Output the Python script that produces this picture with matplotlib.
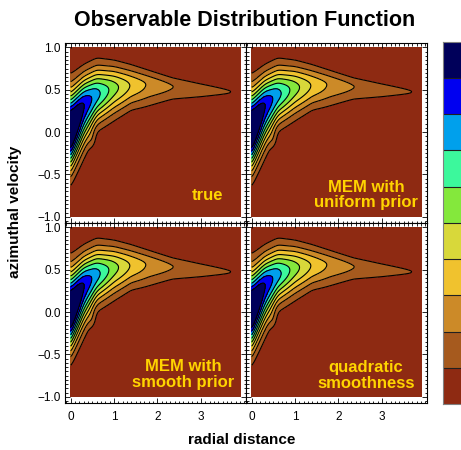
import numpy as np
import matplotlib
matplotlib.use('Agg')
import matplotlib.pyplot as plt
from matplotlib.ticker import MultipleLocator

plt.rcParams['font.family'] = ['Liberation Sans', 'DejaVu Sans']

# ---- data (ridge of the distribution) ----
knot_r = [0.0, 0.3, 0.6, 1.0, 1.4, 1.8, 2.35, 3.0, 3.7, 3.95]
ridge_v = [0.02, 0.31, 0.44, 0.52, 0.55, 0.56, 0.535, 0.505, 0.475, 0.47]
ridge_f = [1.20, 0.90, 0.74, 0.54, 0.385, 0.282, 0.20, 0.151, 0.10, 0.06]
width_up = [0.30, 0.234, 0.218, 0.18, 0.15, 0.118, 0.089, 0.069, 0.05, 0.05]
width_dn = [0.30, 0.305, 0.22, 0.212, 0.177, 0.174, 0.123, 0.096, 0.06, 0.06]
# small shoulder on the low-velocity side near r ~ 0.5
shoulder_rv = [0.50, -0.10]
shoulder_amp = 0.06
shoulder_width = [0.07, 0.08]

levels = [0.1, 0.2, 0.3, 0.4, 0.5, 0.6, 0.7, 0.8, 0.9]
level_colors = ['#8e2a12', '#a65a1e', '#cc8a28', '#f0c22e', '#d8d83a',
                '#84e83c', '#3cf89c', '#00a0ec', '#0000f0', '#00005a']
panel_labels = ['true', 'MEM with\nuniform prior', 'MEM with\nsmooth prior',
                'quadratic\nsmoothness']
x_ticks = [0, 1, 2, 3]
y_ticks = [-1.0, -0.5, 0.0, 0.5, 1.0]
r_range = [0.0, 3.92]
v_range = [-1.0, 1.0]

# ---- build field ----
r = np.linspace(r_range[0], r_range[1], 393)
v = np.linspace(v_range[0], v_range[1], 401)


def profile(vals):
    y = np.interp(r, knot_r, vals)
    k = np.exp(-0.5 * (np.arange(-12, 13) / 5.0) ** 2)
    k /= k.sum()
    yp = np.concatenate([np.full(12, y[0]), y, np.full(12, y[-1])])
    return np.convolve(yp, k, mode='valid')


A = profile(ridge_f)
V0 = profile(ridge_v)
SU = profile(width_up)
SD = profile(width_dn)
dv = v[:, None] - V0[None, :]
sig = np.where(dv > 0, SU[None, :], SD[None, :])
F = A[None, :] * np.exp(-dv ** 2 / (2 * sig ** 2))
F = F + shoulder_amp * np.exp(
    -((r[None, :] - shoulder_rv[0]) / shoulder_width[0]) ** 2 / 2
    - ((v[:, None] - shoulder_rv[1]) / shoulder_width[1]) ** 2 / 2)

W, H = 461, 450
fig = plt.figure(figsize=(W / 100, H / 100), dpi=100)

lefts = [65, 246, 65, 246]
tops = [42.7, 42.7, 222.7, 222.7]
pw, ph = 181, 180
text_pos = [(0.785, 0.15), (0.663, 0.154), (0.652, 0.157), (0.663, 0.15)]


def fmt(t):
    return ('%.1f' % t).replace('-', '\u2212')


for i in range(4):
    ax = fig.add_axes([lefts[i] / W, 1 - (tops[i] + ph) / H, pw / W, ph / H])
    ax.contourf(r, v, F, levels=[-1] + levels + [100], colors=level_colors)
    ax.contour(r, v, F, levels=levels, colors='k', linewidths=0.8)
    ax.set_xlim(-0.13, 4.04)
    ax.set_ylim(-1.07, 1.055)
    ax.set_xticks(x_ticks)
    ax.set_yticks(y_ticks)
    ax.xaxis.set_minor_locator(MultipleLocator(0.1))
    ax.yaxis.set_minor_locator(MultipleLocator(0.05))
    ax.tick_params(which='both', direction='in', top=True, right=True,
                   width=0.6, labelsize=8.5)
    ax.tick_params(which='major', length=3.6)
    ax.tick_params(which='minor', length=1.8)
    ax.tick_params(axis='x', pad=6)
    ax.tick_params(axis='y', pad=3)
    ax.set_xticklabels([str(t) for t in x_ticks])
    ax.set_yticklabels([fmt(t) for t in y_ticks])
    if i % 2 == 1:
        ax.tick_params(labelleft=False)
    if i < 2:
        ax.tick_params(labelbottom=False)
    for s in ax.spines.values():
        s.set_linewidth(0.8)
    tx, ty = text_pos[i]
    ax.text(tx, ty, panel_labels[i], transform=ax.transAxes, ha='center',
            va='center', color='#ffd400', fontsize=12, fontweight='bold',
            linespacing=1.05)

# colorbar
cax = fig.add_axes([443 / W, 1 - 404 / H, 20 / W, 362.3 / H])
for j, c in enumerate(level_colors):
    cax.axhspan(j, j + 1, color=c, lw=0)
for j in range(1, len(level_colors)):
    cax.axhline(j, color='#202020', lw=0.8)
cax.set_xlim(0, 1)
cax.set_ylim(0, len(level_colors))
cax.set_xticks([])
cax.set_yticks([])
for s in cax.spines.values():
    s.set_color('#808080')
    s.set_linewidth(0.8)

fig.text(245 / W, 1 - 26 / H, 'Observable Distribution Function', ha='center',
         va='baseline', fontsize=15.5, fontweight='bold')
fig.text(242 / W, 1 - 444 / H, 'radial distance', ha='center', va='baseline',
         fontsize=11, fontweight='bold')
fig.text(15 / W, 1 - 212 / H, 'azimuthal velocity', ha='center', va='center',
         rotation=90, fontsize=11, fontweight='bold')

fig.savefig('out.png', dpi=100)
